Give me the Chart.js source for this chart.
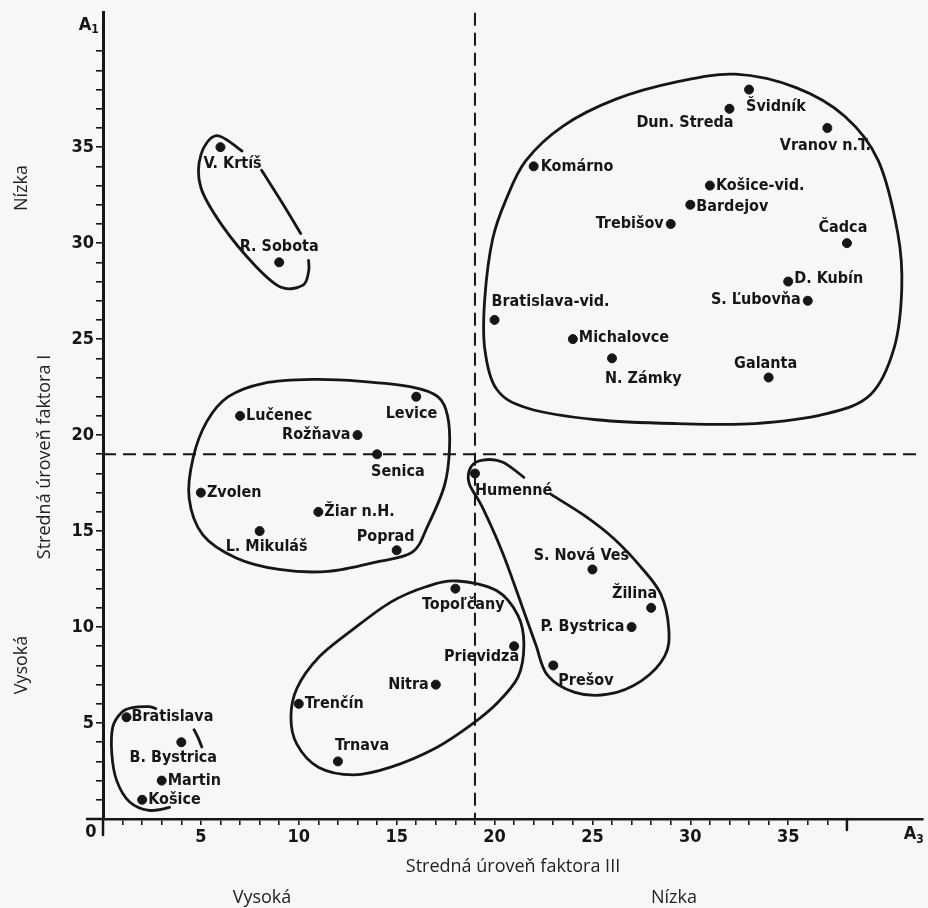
<!DOCTYPE html>
<html>
<head>
<meta charset="utf-8">
<script src="https://cdn.jsdelivr.net/npm/chart.js@4.4.1/dist/chart.umd.min.js"></script>
<style>
  html, body { margin: 0; padding: 0; background: #f8f8f6; }
  #wrap { width: 928px; height: 908px; position: relative; }
</style>
</head>
<body>
<div id="wrap"><canvas id="chart"></canvas></div>
<script>
// Districts, factor III level (x) and factor I level (y)
const cities = ['Švidník', 'Dun. Streda', 'Vranov n.T.', 'Komárno', 'Košice-vid.', 'Bardejov',
  'Trebišov', 'Čadca', 'D. Kubín', 'S. Ľubovňa', 'Bratislava-vid.', 'Michalovce', 'N. Zámky',
  'Galanta', 'V. Krtíš', 'R. Sobota', 'Lučenec', 'Levice', 'Rožňava', 'Senica', 'Zvolen',
  'Žiar n.H.', 'L. Mikuláš', 'Poprad', 'Humenné', 'S. Nová Ves', 'Žilina', 'P. Bystrica',
  'Prešov', 'Prievidza', 'Topoľčany', 'Nitra', 'Trenčín', 'Trnava', 'Bratislava',
  'B. Bystrica', 'Martin', 'Košice'];
const factor3 = [33, 32, 37, 22, 31, 30, 29, 38, 35, 36, 20, 24, 26, 34, 6, 9, 7, 16, 13, 14, 5,
  11, 8, 15, 19, 25, 28, 27, 23, 21, 18, 17, 10, 12, 1.2, 4, 3, 2];
const factor1 = [38, 37, 36, 34, 33, 32, 31, 30, 28, 27, 26, 25, 24, 23, 35, 29, 21, 22, 20, 19, 17,
  16, 15, 14, 18, 13, 11, 10, 8, 9, 12, 7, 6, 3, 5.3, 4, 2, 1];

// split lines (mean levels)
const splitX = 19;
const splitY = 19;

// hand drawn cluster outlines, in axis units
const groupNorth = [[19.5, 27.1], [19.9, 30.2], [20.6, 32.3], [21.6, 34.3], [23.5, 36.1], [26.2, 37.5],
  [29.3, 38.4], [32.3, 38.8], [35.4, 38.1], [37.9, 36.6], [39.6, 34.3], [40.6, 30.5], [40.8, 27.6],
  [40.4, 24.5], [39.2, 22.1], [36.9, 21.1], [33.3, 20.6], [29.3, 20.6], [25.2, 20.8], [21.7, 21.4],
  [20.1, 22.4], [19.5, 24.5]];
const groupKrtis = [[7.1, 34.8], [5.8, 35.6], [5.0, 34.6], [5.0, 32.9], [6.1, 30.9], [7.8, 28.8],
  [9.1, 27.7], [10.2, 27.8], [10.5, 28.5], [10.5, 29.1]];
const groupKrtisSide = [[8.1, 33.8], [9.15, 32.1], [10.1, 30.5]];
const groupCentre = [[6.4, 22.0], [8.2, 22.7], [10.7, 22.9], [13.2, 22.8], [15.8, 22.5], [17.1, 22.0],
  [17.6, 21.0], [17.7, 19.3], [17.45, 17.4], [16.6, 15.3], [15.8, 13.9], [14.0, 13.4], [11.5, 12.9],
  [9.0, 13.0], [6.8, 13.6], [5.1, 14.8], [4.4, 16.7], [4.6, 18.8], [5.3, 20.7]];
const groupEast = [[21.5, 17.8], [20.4, 18.6], [19.4, 18.7], [18.8, 18.35], [18.7, 17.5], [19.4, 16.2],
  [20.4, 13.9], [21.4, 11.1], [22.1, 9.1], [22.7, 7.5], [24.1, 6.6], [25.8, 6.5], [27.5, 7.2],
  [28.7, 8.5], [28.9, 9.9], [28.5, 11.7], [27.5, 13.1], [26.1, 14.6], [24.6, 15.8], [22.9, 16.9]];
const groupWest = [[18.1, 12.4], [20.1, 11.9], [21.2, 10.6], [21.5, 9.1], [21.2, 7.4], [20.1, 6.0],
  [18.8, 4.9], [17.0, 3.7], [14.7, 2.7], [12.8, 2.3], [11.0, 2.7], [9.9, 3.9], [9.6, 5.3], [9.9, 6.8],
  [11.0, 8.4], [12.8, 9.9], [14.7, 11.3], [16.5, 12.1]];
const groupCities = [[2.7, 5.75], [2.35, 5.85], [1.5, 5.8], [0.95, 5.55], [0.5, 4.8], [0.45, 3.4],
  [0.7, 2.0], [1.35, 0.9], [2.35, 0.45], [3.4, 0.6]];
const groupCitiesSide = [[4.65, 4.65], [4.85, 4.25], [5.05, 3.75]];

const outlines = [
  { pts: groupNorth, closed: true },
  { pts: groupKrtis, closed: false },
  { pts: groupKrtisSide, closed: false },
  { pts: groupCentre, closed: true },
  { pts: groupEast, closed: false },
  { pts: groupWest, closed: true },
  { pts: groupCities, closed: false },
  { pts: groupCitiesSide, closed: false }
];

// label placement next to each dot: [dx, dy, align]
const labelPlace = [[-3, 17, 'left'], [4, 14, 'right'], [-2, 18, 'center'], [7, 0, 'left'],
  [6, 0, 'left'], [6, 2, 'left'], [-7, 0, 'right'], [-4, -15, 'center'], [6, -3, 'left'],
  [-7, -1, 'right'], [-3, -18, 'left'], [6, -1, 'left'], [-7, 21, 'left'], [-3, -14, 'center'],
  [-17, 17, 'left'], [0, -15, 'center'], [6, 0, 'left'], [21, 17, 'right'], [-7, 0, 'right'],
  [-6, 18, 'left'], [6, 0, 'left'], [6, 0, 'left'], [7, 16, 'center'], [-11, -13, 'center'],
  [0, 17, 'left'], [-11, -14, 'center'], [6, -14, 'right'], [-7, 0, 'right'], [5, 15, 'left'],
  [5, 11, 'right'], [8, 16, 'center'], [-7, 0, 'right'], [6, 0, 'left'], [-3, -16, 'left'],
  [5, 0, 'left'], [-8, 16, 'center'], [6, 0, 'left'], [6, 0, 'left']];

const ink = '#161616';
const paper = '#f7f7f5';
const boldFont = '"Liberation Sans Narrow", "DejaVu Sans Condensed", "Liberation Sans", sans-serif';
const plainFont = '"Open Sans", Lato, sans-serif';

const points = cities.map((c, i) => ({ x: factor3[i], y: factor1[i] }));

function drawCurve(ctx, pts, closed) {
  const n = pts.length;
  const get = (i) => {
    if (closed) return pts[(i + n) % n];
    return pts[Math.max(0, Math.min(n - 1, i))];
  };
  const segs = closed ? n : n - 1;
  ctx.beginPath();
  ctx.moveTo(pts[0][0], pts[0][1]);
  for (let i = 0; i < segs; i++) {
    const p0 = get(i - 1), p1 = get(i), p2 = get(i + 1), p3 = get(i + 2);
    const c1x = p1[0] + (p2[0] - p0[0]) / 6, c1y = p1[1] + (p2[1] - p0[1]) / 6;
    const c2x = p2[0] - (p3[0] - p1[0]) / 6, c2y = p2[1] - (p3[1] - p1[1]) / 6;
    ctx.bezierCurveTo(c1x, c1y, c2x, c2y, p2[0], p2[1]);
  }
  if (closed) ctx.closePath();
  ctx.stroke();
}

const extras = {
  id: 'extras',
  beforeDraw(chart) {
    const ctx = chart.ctx;
    ctx.save();
    ctx.fillStyle = paper;
    ctx.fillRect(0, 0, chart.width, chart.height);
    ctx.restore();
  },
  afterDatasetsDraw(chart) {
    const ctx = chart.ctx;
    const xs = chart.scales.x, ys = chart.scales.y;
    const area = chart.chartArea;
    ctx.save();
    ctx.strokeStyle = ink;
    ctx.fillStyle = ink;

    // dashed split lines
    ctx.lineWidth = 2;
    ctx.setLineDash([13, 7]);
    ctx.beginPath();
    ctx.moveTo(xs.getPixelForValue(splitX), area.top);
    ctx.lineTo(xs.getPixelForValue(splitX), area.bottom);
    ctx.moveTo(area.left, ys.getPixelForValue(splitY));
    ctx.lineTo(area.right, ys.getPixelForValue(splitY));
    ctx.stroke();
    ctx.setLineDash([]);

    // cluster outlines
    ctx.lineWidth = 2.8;
    ctx.lineJoin = 'round';
    ctx.lineCap = 'round';
    outlines.forEach((o) => {
      const px = o.pts.map((p) => [xs.getPixelForValue(p[0]), ys.getPixelForValue(p[1])]);
      drawCurve(ctx, px, o.closed);
    });

    // city labels
    ctx.font = 'bold 16px ' + boldFont;
    ctx.textBaseline = 'middle';
    points.forEach((p, i) => {
      const lp = labelPlace[i];
      ctx.textAlign = lp[2];
      ctx.fillText(cities[i], xs.getPixelForValue(p.x) + lp[0], ys.getPixelForValue(p.y) + lp[1]);
    });

    // axis extensions, long tick at 38 and corner marks
    ctx.lineWidth = 2.5;
    ctx.beginPath();
    ctx.moveTo(area.left - 16, area.bottom);
    ctx.lineTo(area.left, area.bottom);
    ctx.moveTo(area.left, area.bottom);
    ctx.lineTo(area.left, area.bottom + 16);
    ctx.moveTo(xs.getPixelForValue(38), area.bottom);
    ctx.lineTo(xs.getPixelForValue(38), area.bottom + 11);
    ctx.stroke();

    ctx.font = 'bold 18px ' + boldFont;
    ctx.textAlign = 'center';
    ctx.fillText('0', area.left - 12, area.bottom + 13);
    ctx.fillText('A', 85, 25);
    ctx.fillText('A', 910, 834);
    ctx.font = 'bold 12px ' + boldFont;
    ctx.fillText('1', 95, 30);
    ctx.fillText('3', 920, 840);

    // axis titles
    ctx.font = '18px ' + plainFont;
    ctx.fillStyle = '#222';
    ctx.fillText('Stredná úroveň faktora III', 513, 867);
    ctx.fillText('Vysoká', 262, 898);
    ctx.fillText('Nízka', 674, 898);
    const vert = [['Nízka', 188, 22], ['Stredná úroveň faktora I', 457, 45], ['Vysoká', 665, 22]];
    vert.forEach((v) => {
      ctx.save();
      ctx.translate(v[2], v[1]);
      ctx.rotate(-Math.PI / 2);
      ctx.fillText(v[0], 0, 0);
      ctx.restore();
    });
    ctx.restore();
  }
};

new Chart(document.getElementById('chart'), {
  type: 'scatter',
  data: {
    datasets: [{
      label: 'Okresy',
      data: points,
      backgroundColor: ink,
      borderColor: ink,
      pointRadius: 4.5,
      pointHoverRadius: 4.5
    }]
  },
  options: {
    responsive: true,
    maintainAspectRatio: false,
    animation: false,
    layout: { padding: { top: 10, right: 0, bottom: 0, left: 0 } },
    plugins: { legend: { display: false }, tooltip: { enabled: false } },
    scales: {
      x: {
        type: 'linear',
        min: 0,
        max: 41.86,
        afterFit: (s) => { s.height = 89; },
        afterBuildTicks: (s) => { s.ticks = s.ticks.filter((t) => Number.isInteger(t.value) && t.value <= 38); },
        border: { display: true, color: ink, width: 2.5 },
        grid: { drawOnChartArea: false, drawTicks: true, tickLength: 6, color: ink, lineWidth: 1.6 },
        ticks: {
          stepSize: 1, autoSkip: false, maxRotation: 0, padding: 2, color: ink,
          font: { family: boldFont, weight: 'bold', size: 18 },
          callback: (v) => (v % 5 === 0 && v > 0 ? String(v) : '')
        }
      },
      y: {
        type: 'linear',
        min: 0,
        max: 42,
        afterFit: (s) => { s.width = 103; },
        afterBuildTicks: (s) => { s.ticks = s.ticks.filter((t) => Number.isInteger(t.value) && t.value <= 40); },
        border: { display: true, color: ink, width: 3 },
        grid: { drawOnChartArea: false, drawTicks: true, tickLength: 7, color: ink, lineWidth: 1.6 },
        ticks: {
          stepSize: 1, autoSkip: false, padding: 2, color: ink,
          font: { family: boldFont, weight: 'bold', size: 18 },
          callback: (v) => (v % 5 === 0 && v > 0 && v < 40 ? String(v) : '')
        }
      }
    }
  },
  plugins: [extras]
});
</script>
</body>
</html>
